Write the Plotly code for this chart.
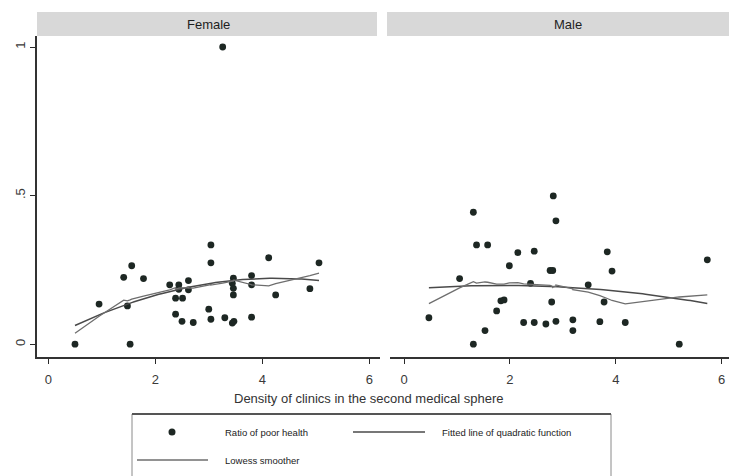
import numpy as np
import plotly.graph_objects as go

# Ratio of poor health vs. density of clinics, by sex
female_density = [0.50, 0.95, 1.41, 1.56, 1.48, 1.53, 1.78, 2.27, 2.44, 2.44,
                  2.38, 2.51, 2.62, 2.62, 2.38, 2.50, 2.71, 3.04, 3.04, 3.00,
                  3.04, 3.30, 3.44, 3.47, 3.46, 3.44, 3.46, 3.46, 3.80, 3.80,
                  3.80, 4.12, 4.25, 4.89, 5.06, 3.26]
female_poor = [0.000, 0.135, 0.225, 0.264, 0.129, 0.000, 0.221, 0.200, 0.200, 0.185,
               0.155, 0.155, 0.214, 0.183, 0.101, 0.077, 0.073, 0.334, 0.274, 0.118,
               0.084, 0.089, 0.071, 0.077, 0.222, 0.205, 0.188, 0.166, 0.231, 0.200,
               0.091, 0.291, 0.166, 0.187, 0.274, 1.000]

male_density = [0.47, 1.05, 1.31, 1.37, 1.58, 1.31, 1.53, 1.75, 1.83, 1.89,
                1.99, 2.15, 2.46, 2.39, 2.26, 2.46, 2.68, 2.87, 2.82, 2.87,
                2.76, 2.81, 2.79, 3.19, 3.19, 3.48, 3.70, 3.78, 3.84, 3.93,
                4.18, 5.20, 5.73]
male_poor = [0.089, 0.221, 0.444, 0.334, 0.334, 0.000, 0.046, 0.112, 0.146, 0.149,
             0.264, 0.308, 0.313, 0.205, 0.073, 0.073, 0.068, 0.077, 0.499, 0.415,
             0.248, 0.248, 0.142, 0.082, 0.046, 0.200, 0.076, 0.142, 0.311, 0.246,
             0.073, 0.000, 0.284]

panel_titles = ["Female", "Male"]
x_ticks = [0, 2, 4, 6]
y_ticks = [0, 0.5, 1]
y_tick_text = ["0", ".5", "1"]
x_title = "Density of clinics in the second medical sphere"
legend_labels = ["Ratio of poor health", "Fitted line of quadratic function", "Lowess smoother"]

W, H = 729, 476
FONT = "Liberation Sans, Arial, sans-serif"
INK = "#2a2a2a"
DOT = "#1d2723"
FIT_COLOR = "#4a4a4a"
LOW_COLOR = "#6e6e6e"


def px_x(p):
    return p / W


def px_y(p):
    return 1 - p / H


def lowess(x, y, bwidth=0.8):
    """Running-line smoother with tricube weights (no robustness steps)."""
    x = np.asarray(x, float)
    y = np.asarray(y, float)
    order = np.argsort(x, kind="stable")
    xs, ys = x[order], y[order]
    n = len(xs)
    k = int(np.floor((n * bwidth - 0.5) / 2))
    fitted = np.empty(n)
    for i in range(n):
        lo, hi = max(0, i - k), min(n - 1, i + k)
        xw, yw = xs[lo:hi + 1], ys[lo:hi + 1]
        delta = 1.0001 * max(xs[hi] - xs[i], xs[i] - xs[lo])
        w = (1 - (np.abs(xw - xs[i]) / delta) ** 3) ** 3
        sw = w.sum()
        mx = (w * xw).sum() / sw
        my = (w * yw).sum() / sw
        sxx = (w * (xw - mx) ** 2).sum()
        slope = (w * (xw - mx) * (yw - my)).sum() / sxx if sxx > 0 else 0.0
        fitted[i] = my + slope * (xs[i] - mx)
    return xs, fitted


def qfit(x, y, n=100):
    x = np.asarray(x, float)
    coef = np.polyfit(x, np.asarray(y, float), 2)
    grid = np.linspace(x.min(), x.max(), n)
    return grid, np.polyval(coef, grid)


fig = go.Figure()

panels = [
    (female_density, female_poor, "x", "y"),
    (male_density, male_poor, "x2", "y2"),
]
for dx, dy, xa, ya in panels:
    fig.add_trace(go.Scatter(
        x=dx, y=dy, mode="markers", xaxis=xa, yaxis=ya,
        marker=dict(size=6.8, color=DOT, symbol="circle"),
        name=legend_labels[0], showlegend=False, hoverinfo="x+y"))
    qx, qy = qfit(dx, dy)
    fig.add_trace(go.Scatter(
        x=qx, y=qy, mode="lines", xaxis=xa, yaxis=ya,
        line=dict(color=FIT_COLOR, width=1.5),
        name=legend_labels[1], showlegend=False))
    lx, ly = lowess(dx, dy)
    fig.add_trace(go.Scatter(
        x=lx, y=ly, mode="lines", xaxis=xa, yaxis=ya,
        line=dict(color=LOW_COLOR, width=1.3),
        name=legend_labels[2], showlegend=False))

y_dom = [px_y(357), px_y(36)]
y_rng = [-0.043, 1.037]
xaxis_common = dict(
    tickmode="array", tickvals=x_ticks, ticktext=[str(t) for t in x_ticks],
    ticks="outside", ticklen=5, tickwidth=1.2, tickcolor=INK,
    ticklabelstandoff=5,
    showline=True, linecolor="#333333", linewidth=1.6,
    showgrid=False, zeroline=False, automargin=False,
    tickfont=dict(family=FONT, size=13, color="#3a3a3a"),
)

fig.update_layout(
    width=W, height=H,
    margin=dict(l=0, r=0, t=0, b=0),
    paper_bgcolor="white", plot_bgcolor="white",
    showlegend=False,
    xaxis=dict(xaxis_common, domain=[px_x(37), px_x(380)], range=[-0.21, 6.2], anchor="y"),
    xaxis2=dict(xaxis_common, domain=[px_x(390), 1.0], range=[-0.265, 6.14], anchor="y2"),
    yaxis=dict(
        domain=y_dom, range=y_rng, anchor="x",
        tickmode="array", tickvals=y_ticks, ticktext=y_tick_text,
        ticks="outside", ticklen=5, tickwidth=1.2, tickcolor=INK,
        tickangle=-90,
        showline=True, linecolor="#333333", linewidth=1.6,
        showgrid=False, zeroline=False, automargin=False,
        tickfont=dict(family=FONT, size=13, color="#3a3a3a"),
    ),
    yaxis2=dict(
        domain=y_dom, range=y_rng, anchor="x2",
        showticklabels=False, ticks="", showline=False,
        showgrid=False, zeroline=False, automargin=False,
    ),
)

shapes = []
annotations = []


def label(text, x, y, size, color, xanchor="center"):
    return dict(text=text, xref="paper", yref="paper",
                x=px_x(x), y=px_y(y), xanchor=xanchor, yanchor="middle",
                showarrow=False, font=dict(family=FONT, size=size, color=color))


# panel header strips
for (x0, x1, cx), title in zip([(37, 377, 208), (387, 729, 568)], panel_titles):
    shapes.append(dict(type="rect", xref="paper", yref="paper",
                       x0=px_x(x0), x1=px_x(x1), y0=px_y(36), y1=px_y(12),
                       fillcolor="#d8d8d8", line=dict(width=0), layer="below"))
    annotations.append(label(title, cx, 24, 13, "#1e1e1e"))

# shared x-axis title
annotations.append(label(x_title, 369, 398, 13, "#333333"))

# legend box
shapes.append(dict(type="rect", xref="paper", yref="paper",
                   x0=px_x(132), x1=px_x(611), y0=px_y(490), y1=px_y(414),
                   line=dict(color="#8a8a8a", width=1), fillcolor="rgba(0,0,0,0)"))
shapes.append(dict(type="line", xref="paper", yref="paper",
                   x0=px_x(132), x1=px_x(611), y0=px_y(414), y1=px_y(414),
                   line=dict(color="#555555", width=2)))
# legend keys
shapes.append(dict(type="circle", xref="paper", yref="paper",
                   xsizemode="pixel", ysizemode="pixel",
                   xanchor=px_x(172), yanchor=px_y(432),
                   x0=-3.5, x1=3.5, y0=-3.5, y1=3.5,
                   fillcolor=DOT, line=dict(width=0)))
shapes.append(dict(type="line", xref="paper", yref="paper",
                   x0=px_x(353), x1=px_x(425), y0=px_y(432), y1=px_y(432),
                   line=dict(color=FIT_COLOR, width=1.5)))
shapes.append(dict(type="line", xref="paper", yref="paper",
                   x0=px_x(137), x1=px_x(208), y0=px_y(460), y1=px_y(460),
                   line=dict(color=LOW_COLOR, width=1.3)))
for text, (lx, ly) in zip(legend_labels, [(223, 432), (440, 432), (223, 460)]):
    annotations.append(label(text, lx, ly, 9.5, "#222222", xanchor="left"))

fig.update_layout(shapes=shapes, annotations=annotations)
fig.write_html("out.html")
